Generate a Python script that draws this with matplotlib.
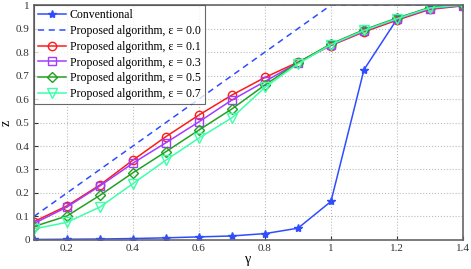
import matplotlib
matplotlib.use("Agg")
import matplotlib.pyplot as plt
import numpy as np

plt.rcParams.update({
    "font.family": ["Liberation Serif", "DejaVu Serif"],
    "font.size": 8,
    "axes.linewidth": 1.0,
    "xtick.direction": "in",
    "ytick.direction": "in",
    "xtick.major.size": 3,
    "ytick.major.size": 3,
    "mathtext.fontset": "stix",
})

# -------------------------
# Data
# -------------------------
gamma = [0.1, 0.2, 0.3, 0.4, 0.5, 0.6, 0.7, 0.8, 0.9, 1.0, 1.1, 1.2, 1.3, 1.4]
conventional = [0.002, 0.003, 0.004, 0.006, 0.009, 0.013, 0.017, 0.027, 0.05, 0.164, 0.725, 0.94, 0.99, 1.0]
eps_00 = [0.1, 0.2, 0.3, 0.4, 0.5, 0.6, 0.7, 0.8, 0.9, 1.0, 1.0, 1.0, 1.0, 1.0]
eps_01 = [0.078, 0.145, 0.234, 0.34, 0.44, 0.532, 0.617, 0.692, 0.757, 0.828, 0.886, 0.936, 0.982, 0.997]
eps_03 = [0.07, 0.14, 0.23, 0.327, 0.414, 0.503, 0.596, 0.675, 0.755, 0.83, 0.89, 0.94, 0.985, 0.998]
eps_05 = [0.057, 0.102, 0.19, 0.286, 0.376, 0.468, 0.558, 0.66, 0.755, 0.835, 0.895, 0.945, 0.99, 1.0]
eps_07 = [0.047, 0.075, 0.14, 0.24, 0.34, 0.434, 0.52, 0.65, 0.75, 0.832, 0.892, 0.942, 0.988, 1.0]

xticks = [0.2, 0.4, 0.6, 0.8, 1.0, 1.2, 1.4]
xticklabels = ["0.2", "0.4", "0.6", "0.8", "1", "1.2", "1.4"]
yticks = [0, 0.1, 0.2, 0.3, 0.4, 0.5, 0.6, 0.7, 0.8, 0.9, 1.0]
yticklabels = ["0", "0.1", "0.2", "0.3", "0.4", "0.5", "0.6", "0.7", "0.8", "0.9", "1"]

blue = "#2f4dff"
red = "#ff1a1a"
purple = "#a23cff"
green = "#22a022"
mint = "#3dffaa"

fig = plt.figure(figsize=(4.71, 2.69), dpi=100)
ax = fig.add_axes([0.072, 0.108, 0.911, 0.873])

ax.plot(gamma, conventional, color=blue, marker="*", ms=6, lw=1.1, mew=1.0,
        label="Conventional")
ax.plot(gamma, eps_00, color=blue, ls=(0, (4, 3)), lw=1.1,
        label="Proposed algorithm, \u03b5 = 0.0")
ax.plot(gamma, eps_01, color=red, marker="o", ms=6, mfc="none", lw=1.1,
        label="Proposed algorithm, \u03b5 = 0.1")
ax.plot(gamma, eps_03, color=purple, marker="s", ms=5.5, mfc="none", lw=1.1,
        label="Proposed algorithm, \u03b5 = 0.3")
ax.plot(gamma, eps_05, color=green, marker="D", ms=5.5, mfc="none", lw=1.1,
        label="Proposed algorithm, \u03b5 = 0.5")
ax.plot(gamma, eps_07, color=mint, marker="v", ms=6.5, mfc="none", lw=1.1,
        label="Proposed algorithm, \u03b5 = 0.7")

ax.set_xlim(0.1, 1.4)
ax.set_ylim(0, 1)
ax.set_xticks(xticks)
ax.set_xticklabels(xticklabels)
ax.set_yticks(yticks)
ax.set_yticklabels(yticklabels)
ax.tick_params(labelsize=8, colors="#333333", pad=3)
ax.grid(True, ls=":", color="#bbbbbb", lw=0.8)
ax.set_axisbelow(True)
for s in ax.spines.values():
    s.set_color("#666666")
    s.set_linewidth(1.2)

ax.set_xlabel("\u03b3", fontsize=10, labelpad=0)
ax.set_ylabel("z", fontsize=10, labelpad=2)

leg = ax.legend(loc="upper left", fontsize=8.5, frameon=True, fancybox=False,
                edgecolor="#444444", borderaxespad=0, handlelength=2.4,
                borderpad=0.35, labelspacing=0.32, handletextpad=0.3)
leg.get_frame().set_linewidth(0.8)

fig.savefig("out.png", dpi=100)
